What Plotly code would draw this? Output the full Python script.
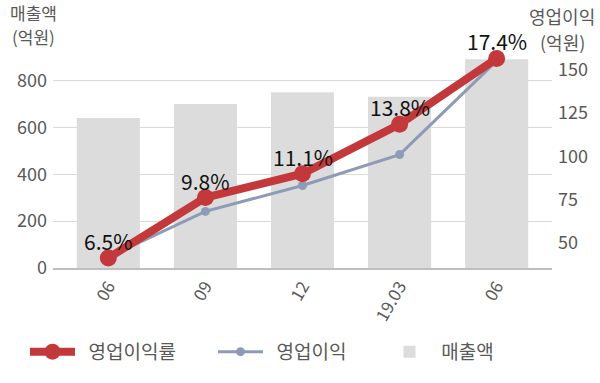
import plotly.graph_objects as go

categories = ["06", "09", "12", "19.03", "06"]
sales = [640, 700, 750, 730, 890]            # 매출액 (억원)
op_profit = [42, 68.3, 83.2, 101, 155]        # 영업이익 (억원)
op_margin = [6.5, 9.8, 11.1, 13.8, 17.4]      # 영업이익률 (%)
margin_labels = ["6.5%", "9.8%", "11.1%", "13.8%", "17.4%"]

FONT = "Noto Sans CJK KR"
GRAY = "#595959"
NB = "\u00a0"
xs = list(range(len(categories)))

W, H = 600, 383
ML, MR, MT, MB = 53, 48, 56.5, 115
PW = W - ML - MR
PH = H - MT - MB


def px(x):
    return (x - ML) / PW


def py(y):
    return (H - MB - y) / PH


fig = go.Figure()
fig.add_trace(go.Bar(
    x=xs, y=sales, name=NB + "매출액", marker=dict(color="#DCDCDC", line=dict(width=0)),
    width=0.65, yaxis="y", legend="legend3"))
fig.add_trace(go.Scatter(
    x=xs, y=op_profit, name=NB + NB + "영업이익", mode="lines+markers",
    line=dict(color="#8E9BB6", width=3), marker=dict(size=9, color="#8E9BB6"),
    yaxis="y2", legend="legend2"))
fig.add_trace(go.Scatter(
    x=xs, y=op_margin, name=NB + NB + "영업이익률", mode="lines+markers",
    line=dict(color="#C3393B", width=8), marker=dict(size=17, color="#C3393B"),
    yaxis="y3", legend="legend", cliponaxis=False))

for x, m, t in zip(xs, op_margin, margin_labels):
    fig.add_annotation(x=x, y=m, xref="x", yref="y3", text=t, showarrow=False,
                       yshift=17, font=dict(family=FONT, size=21, color="#111111"))

titles = [("매출액", 33, 11.5, 17), ("(억원)", 33, 35.5, 17),
          ("영업이익", 562, 15.5, 18), ("(억원)", 562, 41.5, 18)]
for txt, tx, ty, fs in titles:
    fig.add_annotation(x=px(tx), y=py(ty), xref="paper", yref="paper",
                       text=txt, showarrow=False, xanchor="center", yanchor="middle",
                       borderpad=0, font=dict(family=FONT, size=fs, color=GRAY))

layout_legend = dict(orientation="h", yanchor="middle", y=py(352), xanchor="left",
                     font=dict(family=FONT, size=19, color=GRAY), bgcolor="rgba(0,0,0,0)",
                     itemwidth=45)

fig.update_layout(
    width=W, height=H,
    margin=dict(l=ML, r=MR, t=MT, b=MB, pad=0),
    paper_bgcolor="white", plot_bgcolor="white",
    font=dict(family=FONT, color=GRAY),
    xaxis=dict(range=[-0.57, 4.57], tickvals=xs, ticktext=categories, tickangle=-60,
               tickfont=dict(family=FONT, size=17, color=GRAY), showgrid=False,
               showline=True, linecolor="#BFBFBF", linewidth=1.5, ticks="", zeroline=False,
               automargin=False),
    yaxis=dict(range=[0, 900], tickvals=[0, 200, 400, 600, 800], showgrid=True,
               gridcolor="#D9D9D9", gridwidth=1, zeroline=False, automargin=False,
               tickfont=dict(family=FONT, size=18, color=GRAY), ticks="", ticklabelstandoff=5),
    yaxis2=dict(range=[35.7, 157.2], tickvals=[50, 75, 100, 125, 150], overlaying="y",
                side="right", showgrid=False, zeroline=False, automargin=False,
                tickfont=dict(family=FONT, size=18, color=GRAY), ticks="", ticklabelstandoff=5),
    yaxis3=dict(range=[5.95, 17.48], overlaying="y", visible=False),
    legend=dict(layout_legend, x=px(25)),
    legend2=dict(layout_legend, x=px(213)),
    legend3=dict(layout_legend, x=px(382)),
    showlegend=True,
)

fig.write_html("out.html", config={"displayModeBar": False},
               post_script="document.body.style.margin='0px';")
